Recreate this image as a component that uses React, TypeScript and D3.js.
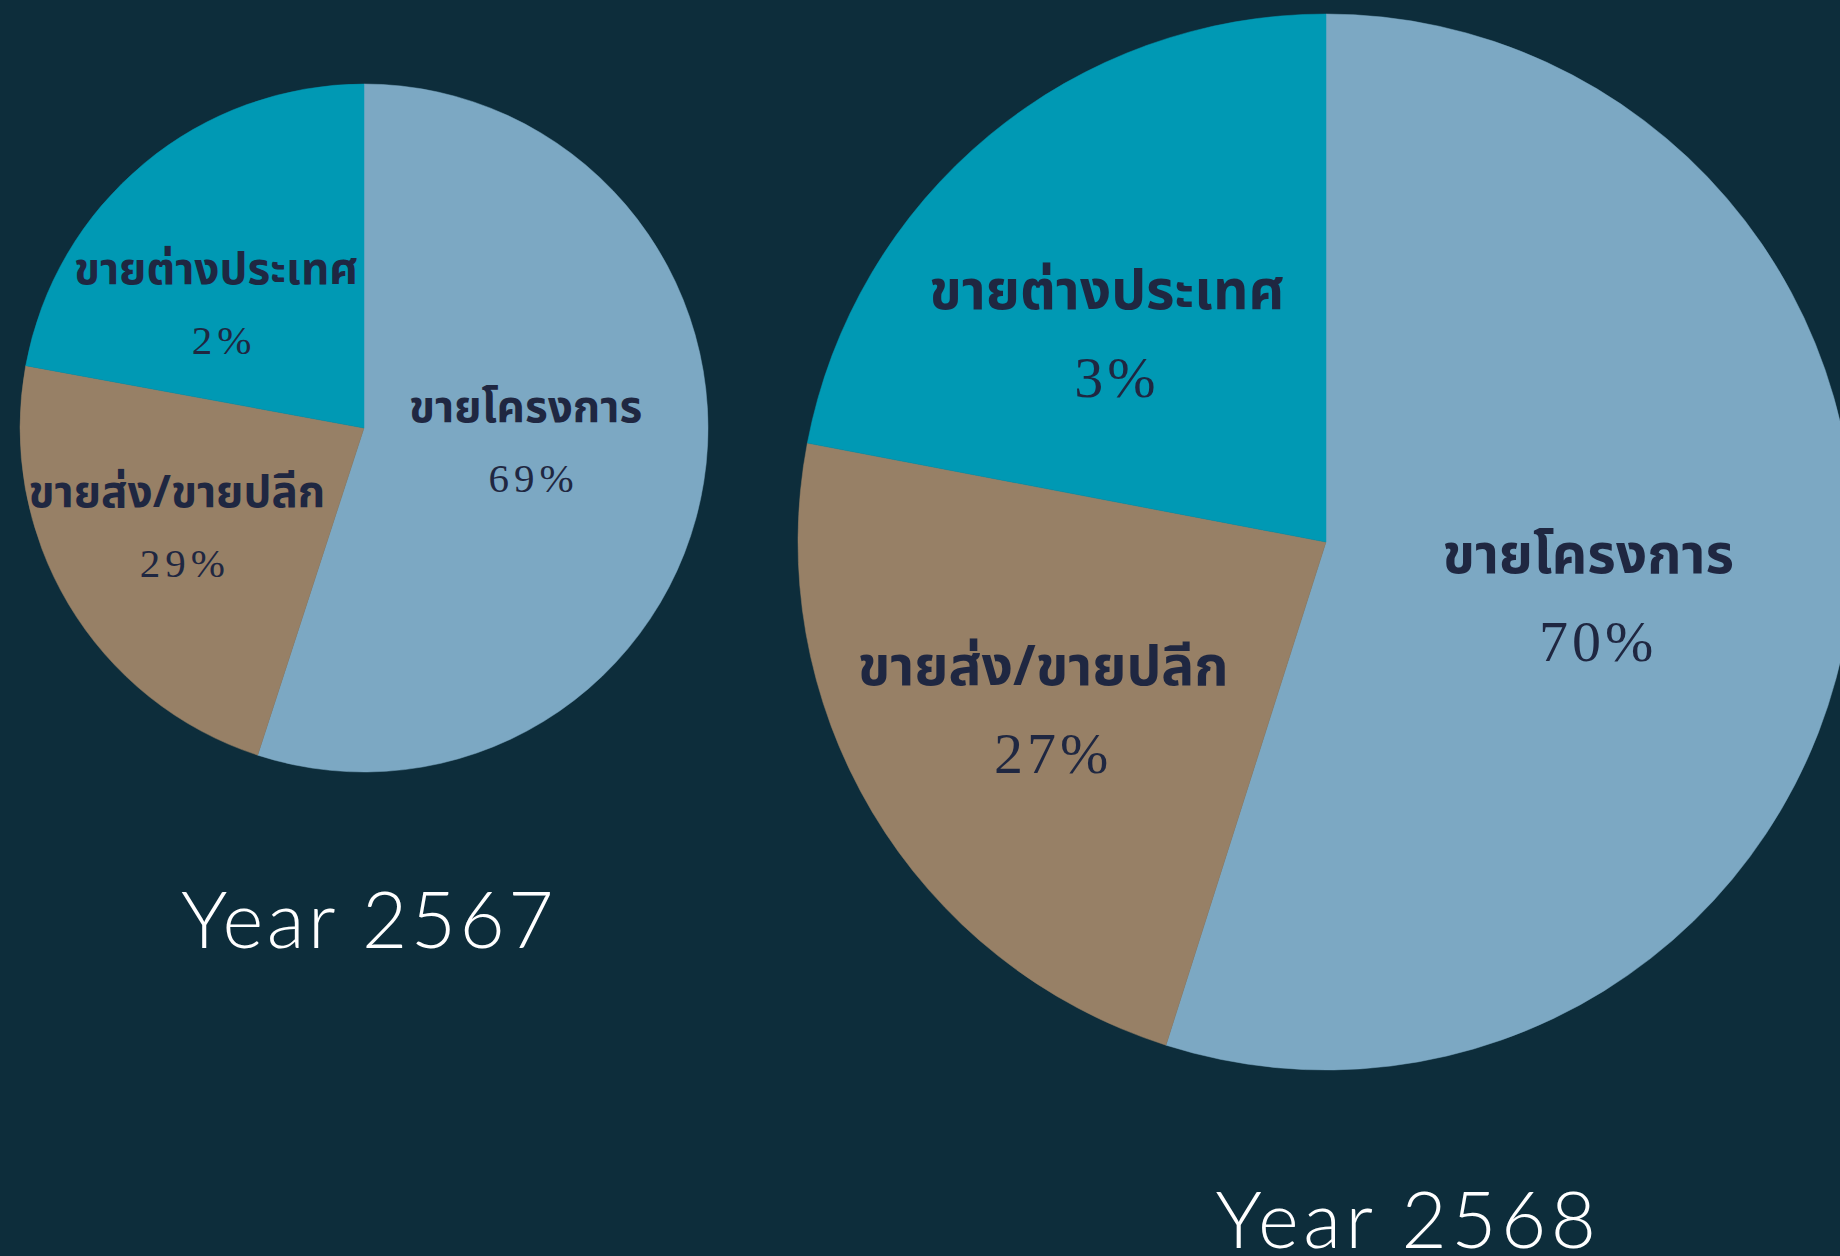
import React, { useEffect } from 'react';
import * as d3 from 'd3';

// slice order, clockwise from 12 o'clock
const categories = ['ขายโครงการ', 'ขายส่ง/ขายปลีก', 'ขายต่างประเทศ'];

// slice sizes as drawn in the picture (share of the circle)
const shares2567 = [55.0, 22.9, 22.1];
const shares2568 = [54.9, 23.1, 22.0];

// percentage labels printed on the slices
const labels2567 = ['69%', '29%', '2%'];
const labels2568 = ['70%', '27%', '3%'];

const years = ['Year 2567', 'Year 2568'];

const W = 1840, H = 1256;
const BG = '#0d2d3b';
const colors = ['#7ca8c3', '#978066', '#0099b4'];
const ink = '#1f2741';

type PieSpec = {
  shares: number[];
  labels: string[];
  title: string;
  cx: number; cy: number; r: number;
  nameSize: number; pctSize: number; gap: number; spacing: number; pctDx: number;
  place: [number, number][]; // [radius factor, angle nudge in degrees]
  titleX: number; titleY: number; titleSpacing: number;
};

const pies: PieSpec[] = [
  {
    shares: shares2567, labels: labels2567, title: years[0],
    cx: 364, cy: 428, r: 344,
    nameSize: 44, pctSize: 41, gap: 70, spacing: 5, pctDx: 8,
    place: [[0.47, -11], [0.59, 8], [0.6, -6]],
    titleX: 369, titleY: 948, titleSpacing: 3.5,
  },
  {
    shares: shares2568, labels: labels2568, title: years[1],
    cx: 1326, cy: 542, r: 528,
    nameSize: 55, pctSize: 58, gap: 88, spacing: 4, pctDx: 10,
    place: [[0.5, -2], [0.6, 4], [0.606, -3.6]],
    titleX: 1408, titleY: 1248, titleSpacing: 4.5,
  },
];

function Pie({ spec }: { spec: PieSpec }) {
  const arcs = d3.pie<number>().sort(null).startAngle(0).endAngle(2 * Math.PI)(spec.shares);
  const arc = d3.arc<d3.PieArcDatum<number>>().innerRadius(0).outerRadius(spec.r);
  return (
    <g transform={`translate(${spec.cx},${spec.cy})`}>
      {arcs.map((a, i) => (
        <path key={i} d={arc(a) || ''} fill={colors[i]} stroke={colors[i]} strokeWidth={0.5} />
      ))}
      {arcs.map((a, i) => {
        const [k, nudge] = spec.place[i];
        const ang = (a.startAngle + a.endAngle) / 2 + (nudge * Math.PI) / 180;
        const x = Math.sin(ang) * spec.r * k;
        const y = -Math.cos(ang) * spec.r * k;
        return (
          <g key={'l' + i} transform={`translate(${x},${y})`}>
            <text textAnchor="middle" fontFamily="'Noto Sans Thai', 'Noto Sans', 'DejaVu Sans', sans-serif"
              fontWeight="bold" fontSize={spec.nameSize} fill={ink}>{categories[i]}</text>
            <text textAnchor="middle" x={spec.pctDx} y={spec.gap} fontFamily="'Liberation Serif', 'Times New Roman', serif"
              fontSize={spec.pctSize} letterSpacing={spec.spacing} fill={ink}>{spec.labels[i]}</text>
          </g>
        );
      })}
    </g>
  );
}

export default function App() {
  useEffect(() => {
    document.body.style.margin = '0';
    document.body.style.background = BG;
  }, []);
  return (
    <svg width={W} height={H} style={{ display: 'block', background: BG }}>
      <rect width={W} height={H} fill={BG} />
      {pies.map((p, i) => <Pie key={i} spec={p} />)}
      {pies.map((p, i) => (
        <text key={'t' + i} x={p.titleX} y={p.titleY} textAnchor="middle" fill="#ffffff"
          fontFamily="Lato, 'Open Sans', sans-serif" fontWeight={300} fontSize={78}
          letterSpacing={p.titleSpacing}>{p.title}</text>
      ))}
    </svg>
  );
}
